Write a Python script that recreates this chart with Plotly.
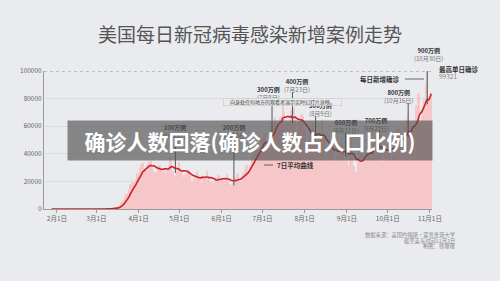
import plotly.graph_objects as go
import pandas as pd

# ---------------- data ----------------
start_date = "2020-01-22"
cases_jan = [1, 0, 1, 0, 3, 0, 0, 0, 0, 2]
cases_feb = [1, 0, 3, 0, 0, 0, 0, 0, 1, 0, 1, 0, 1, 0, 0, 0, 0, 0, 0, 0, 2, 0, 0, 0, 0, 1, 1, 2, 4]
cases_mar = [7, 4, 21, 20, 29, 65, 74, 120, 170, 258, 320, 417, 615, 726, 773, 1170, 1750, 2600, 4700, 5600,
             6900, 9300, 10900, 11200, 14300, 18000, 18800, 19600, 19800, 21700, 25700]
cases_apr = [26000, 29500, 32000, 33300, 25500, 29000, 31500, 32500, 34500, 35000,
             29900, 27200, 25300, 26400, 29600, 31800, 32000, 29600, 26800, 28100,
             25800, 28900, 32100, 38000, 34500, 27100, 22600, 24300, 27300, 30000]
cases_may = [33900, 29400, 25500, 23200, 24200, 25900, 28400, 27800, 25800, 19500,
             18600, 22700, 21200, 27200, 25300, 24000, 18900, 22400, 21100, 23000,
             27300, 24000, 22300, 19300, 20300, 18500, 19900, 22600, 24600, 24300, 20100]
cases_jun = [21800, 20500, 20300, 21600, 25200, 22100, 18200, 17300, 18500, 20600,
             22800, 25000, 25800, 19700, 19600, 23500, 26000, 28200, 31900, 32100,
             27400, 31500, 35700, 37900, 40000, 45200, 43400, 41700, 42200, 47700]
cases_jul = [51500, 55200, 54400, 45300, 44000, 51100, 60200, 62300, 59000, 66500,
             63200, 58900, 62000, 66500, 67400, 77100, 70100, 63600, 61900, 62200,
             64000, 71400, 68700, 73100, 65600, 55300, 57300, 63200, 68300, 68600, 67300]
cases_aug = [58000, 46400, 47200, 53300, 54200, 58400, 62000, 54500, 46800, 49400,
             54800, 53700, 52000, 64600, 52400, 42100, 35100, 44600, 46700, 45000,
             48300, 44200, 34600, 36500, 38200, 45700, 45500, 47400, 43300, 34700, 36000]
cases_sep = [42000, 31400, 44400, 51100, 41400, 31200, 24300, 26900, 34400, 37800,
             47200, 41500, 34400, 35400, 39300, 39200, 44200, 48500, 42400, 37300,
             52500, 39400, 38900, 45200, 55300, 47200, 34200, 36400, 42600, 39000]
cases_oct = [45200, 54400, 49400, 35300, 41600, 43500, 50400, 58400, 58100, 54400,
             46600, 41400, 52000, 59200, 64800, 69400, 57400, 48500, 58400, 60500,
             62700, 75100, 83800, 83100, 61100, 67200, 74200, 79300, 91300, 99321, 81200]
cases_nov = [74300, 84200]

tick_dates = ["2020-02-01", "2020-03-01", "2020-04-01", "2020-05-01", "2020-06-01",
              "2020-07-01", "2020-08-01", "2020-09-01", "2020-10-01", "2020-11-01"]
tick_labels = ["2月1日", "3月1日", "4月1日", "5月1日", "6月1日",
               "7月1日", "8月1日", "9月1日", "10月1日", "11月1日"]
y_ticks = [0, 20000, 40000, 60000, 80000, 100000]

milestone_dates = ["2020-04-28", "2020-06-10", "2020-07-08", "2020-07-23", "2020-08-09",
                   "2020-08-31", "2020-09-25", "2020-10-16", "2020-10-30"]
milestone_names = ["100万例", "200万例", "300万例", "400万例", "500万例",
                   "600万例", "700万例", "800万例", "900万例"]
milestone_sub = ["(4月28日)", "(6月10日)", "(7月8日)", "(7月23日)", "(8月9日)",
                 "(8月31日)", "(9月25日)", "(10月16日)", "(10月30日)"]

# ---------------- build ----------------
cases = (cases_jan + cases_feb + cases_mar + cases_apr + cases_may + cases_jun +
         cases_jul + cases_aug + cases_sep + cases_oct + cases_nov)
dates = pd.date_range(start_date, periods=len(cases), freq="D")
s = pd.Series(cases, index=dates)
avg7 = s.rolling(7).mean()

# plot area in pixels
X0, X1, YT, YB = 44, 432, 71, 209
W, H = 500, 281


def px(x):
    return (x - X0) / (X1 - X0)


def py(y):
    return (YB - y) / (YB - YT)


def val(y):
    return (YB - y) / (YB - YT) * 100000


FONT = "Noto Sans CJK SC"

fig = go.Figure()
fig.add_trace(go.Bar(x=dates, y=cases, marker=dict(color="#f6c6c9", line=dict(width=0)),
                     hoverinfo="skip"))
fig.add_trace(go.Scatter(x=dates, y=avg7, mode="lines",
                         line=dict(color="#c9232b", width=1.6, shape="spline"),
                         hoverinfo="skip"))

shapes = []
annotations = []


def note(x, y, text, size, color="#333", xanchor="center", **kw):
    d = dict(x=x, y=y, text=text, showarrow=False, xanchor=xanchor, yanchor="middle",
             font=dict(family=FONT, size=size, color=color))
    d.setdefault("xref", "paper")
    d.setdefault("yref", "paper")
    d.update(kw)
    annotations.append(d)


# dotted top line
shapes.append(dict(type="line", xref="paper", yref="y", x0=0, x1=1.003, y0=100000, y1=100000,
                   line=dict(color="#9a9a9a", width=1, dash="dot"), layer="above"))

# milestones
label_y = [131, 131, 93, 85, 109, 126, 124, 96, 55]
label_dx = [0, 0, -4, 5, 5, 0, -4, -10, 1]
for d, n, sub, ly, dx in zip(milestone_dates, milestone_names, milestone_sub, label_y, label_dx):
    a = float(avg7.loc[d])
    shapes.append(dict(type="line", xref="x", yref="y", x0=d, x1=d,
                       y0=val(ly + 7), y1=max(a - 3500, 0),
                       line=dict(color="#555555", width=1), layer="above"))
    note(d, py(ly), f"<b>{n}</b><br><span style='color:#777'>{sub}</span>", 6,
         xref="x", xshift=dx, align="center")

# side labels
note(px(437), py(69), "<b>最高单日确诊</b>", 6.5, xanchor="left")
note(px(437), py(75.5), f"{max(cases)}", 6.5, color="#888", xanchor="left")
note(px(402), py(79), "<b>每日新增确诊</b>", 6.5, xanchor="right")
shapes.append(dict(type="line", xref="paper", yref="paper", x0=px(405), x1=px(424),
                   y0=py(79), y1=py(79), line=dict(color="#444", width=0.8)))
note(px(275), py(165), "<b>7日平均曲线</b>", 6.5, xanchor="left")
shapes.append(dict(type="line", xref="paper", yref="paper", x0=px(264), x1=px(273),
                   y0=py(165), y1=py(165), line=dict(color="#444", width=0.8)))

# tooltip box
note(px(282.5), py(102), "向身处任何地方的观看者演示实时幻灯片放映。", 5, color="#444",
     bgcolor="#ebebeb", bordercolor="#c8c8c8", borderwidth=0.6, width=118, height=7, borderpad=0)

# title
note(px(250), py(33), "美国每日新冠病毒感染新增案例走势", 19, color="#555")

# footer
for t, yy in zip(["数据来源：美国约翰斯·霍普金斯大学", "截至美东时间11月3日", "制图：徐珊珊"],
                 [235, 240.5, 246]):
    note(px(457), py(yy), t, 5.3, color="#8a8a8a", xanchor="right")

# banner overlay
note(px(250), py(140.5), "<b>确诊人数回落(确诊人数占人口比例)</b>", 21, color="white",
     bgcolor="rgba(82,82,82,0.66)", width=364, height=39, borderpad=0)

fig.update_layout(
    width=W, height=H,
    margin=dict(l=X0, r=W - X1, t=YT, b=H - YB),
    paper_bgcolor="#e9ebee", plot_bgcolor="rgba(0,0,0,0)",
    showlegend=False, bargap=0.18,
    shapes=shapes, annotations=annotations,
    xaxis=dict(range=["2020-01-22 12:00", "2020-11-02 12:00"], tickvals=tick_dates,
               ticktext=tick_labels, showgrid=False, showline=True, linecolor="#9a9a9a",
               linewidth=1, ticks="outside", ticklen=3, tickcolor="#9a9a9a",
               tickfont=dict(family=FONT, size=6.5, color="#666")),
    yaxis=dict(range=[0, 100000], tickvals=y_ticks, ticktext=[str(v) for v in y_ticks],
               showgrid=True, gridcolor="#dcdcdc", gridwidth=1, zeroline=False,
               showline=True, linecolor="#9a9a9a", linewidth=1, ticks="", ticklen=0,
               tickfont=dict(family=FONT, size=6.5, color="#666")),
    font=dict(family=FONT),
)
fig.write_html("out.html")
